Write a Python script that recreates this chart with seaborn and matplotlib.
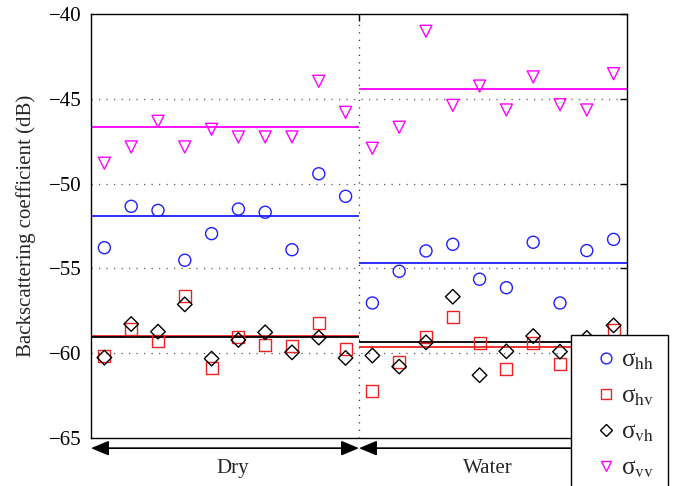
import numpy as np
import pandas as pd
import matplotlib
matplotlib.use('Agg')
import matplotlib.pyplot as plt
from matplotlib.lines import Line2D
import seaborn as sns

# sample index, 1-10 dry, 11-20 water
sample = np.arange(1, 21)
groups = ['Dry'] * 10 + ['Water'] * 10

hh = [-53.78, -51.34, -51.58, -54.52, -52.95, -51.50, -51.69, -53.90, -49.42, -50.75,
      -57.04, -55.17, -53.97, -53.58, -55.64, -56.14, -53.46, -57.04, -53.95, -53.29]
hv = [-60.14, -58.60, -59.30, -56.65, -60.90, -59.07, -59.52, -59.60, -58.20, -59.73,
      -62.25, -60.52, -59.05, -57.85, -59.38, -60.95, -59.38, -60.62, -59.70, -58.63]
vh = [-60.26, -58.28, -58.73, -57.12, -60.32, -59.22, -58.77, -59.95, -59.08, -60.28,
      -60.14, -60.79, -59.36, -56.67, -61.30, -59.89, -58.99, -59.91, -59.10, -58.36]
vv = [-48.80, -47.84, -46.33, -47.84, -46.80, -47.25, -47.25, -47.25, -43.97, -45.80,
      -47.92, -46.68, -41.02, -45.39, -44.25, -45.66, -43.71, -45.35, -45.66, -43.52]

# mean level of each polarisation in each group
group_names = ['Dry', 'Water']
mean_hh = [-51.89, -54.70]
mean_hv = [-58.99, -59.65]
mean_vh = [-59.07, -59.32]
mean_vv = [-46.66, -44.44]

df = pd.DataFrame({'sample': sample, 'group': groups,
                   'hh': hh, 'hv': hv, 'vh': vh, 'vv': vv})

sns.set_style('white')
plt.rcParams['font.family'] = ['Liberation Serif', 'DejaVu Serif']
plt.rcParams['mathtext.fontset'] = 'stix'

fig = plt.figure(figsize=(6.76, 4.86), dpi=100)
ax = fig.add_axes([0.1346, 0.0988, 0.7929, 0.8724])

series = [('hh', 'o', '#1f1fff', mean_hh),
          ('hv', 's', '#ee2222', mean_hv),
          ('vh', 'D', 'black', mean_vh),
          ('vv', 'v', '#ff00ff', mean_vv)]

# group bounds on the x axis
edges = {}
for g in group_names:
    xs = df.loc[df.group == g, 'sample']
    edges[g] = (xs.min() - 0.5, xs.max() + 0.5)

# grid and divider
for yv in [-45, -50, -55, -60]:
    ax.axhline(yv, color='0.35', lw=0.9, ls=(0, (1, 5)), zorder=0)
ax.axvline(edges['Dry'][1], color='0.2', lw=0.9, ls=(0, (1, 5)), zorder=0)

handles = []
leg_ms = {'o': 7.8, 's': 6.5, 'D': 6.5, 'v': 7.8}
for name, mk, col, means in series:
    size = 75 if mk != 'D' else 55
    sns.scatterplot(data=df, x='sample', y=name, marker=mk, s=size,
                    facecolor='none', edgecolor=col, linewidth=1.0, ax=ax, zorder=3)
    for g, m in zip(group_names, means):
        lo, hi = edges[g]
        ax.hlines(m, lo, hi, color=col, lw=1.3, zorder=2)
    handles.append(Line2D([], [], ls='none', marker=mk, ms=leg_ms[mk],
                          mfc='none', mec=col, mew=1.0,
                          label='\u03c3$_{\\mathrm{' + name + '}}$'))

ax.set_xlim(edges['Dry'][0], edges['Water'][1])
ax.set_ylim(-65, -40)
ax.set_yticks([-65, -60, -55, -50, -45, -40])
ax.set_yticklabels(['\u221265', '\u221260', '\u221255', '\u221250', '\u221245', '\u221240'])
ax.set_xticks([edges['Dry'][1]])
ax.set_xticklabels([''])
ax.tick_params(axis='both', direction='in', length=5, width=1, right=True, top=True,
               labelsize=15, colors='black', pad=7)
ax.set_xlabel('')
ax.set_ylabel('Backscattering coefficient (dB)', fontsize=15, labelpad=9)
for sp in ax.spines.values():
    sp.set_color('black')
    sp.set_linewidth(1.0)

# group arrows and labels under the axes
label_x = {'Dry': 5.8, 'Water': 15.3}
for g in group_names:
    lo, hi = edges[g]
    ax.annotate('', xy=(lo, -0.024), xytext=(hi, -0.024),
                xycoords=('data', 'axes fraction'), textcoords=('data', 'axes fraction'),
                arrowprops=dict(arrowstyle='<|-|>,head_length=0.6,head_width=0.25',
                                color='black', lw=1.2, shrinkA=0, shrinkB=0,
                                mutation_scale=18),
                annotation_clip=False)
    ax.text(label_x[g], -0.073, g, transform=ax.get_xaxis_transform(),
            ha='center', va='center', fontsize=15, clip_on=False)

leg = fig.legend(handles=handles, loc='upper left',
                 bbox_to_anchor=(571 / 676, 1 - 335 / 486),
                 fontsize=18, frameon=True, fancybox=False, framealpha=1,
                 edgecolor='black', labelspacing=0.53, handletextpad=-0.2,
                 handlelength=1.66, borderpad=0.55, borderaxespad=0)
leg.get_frame().set_linewidth(1.0)

fig.savefig('out.png', dpi=100)
